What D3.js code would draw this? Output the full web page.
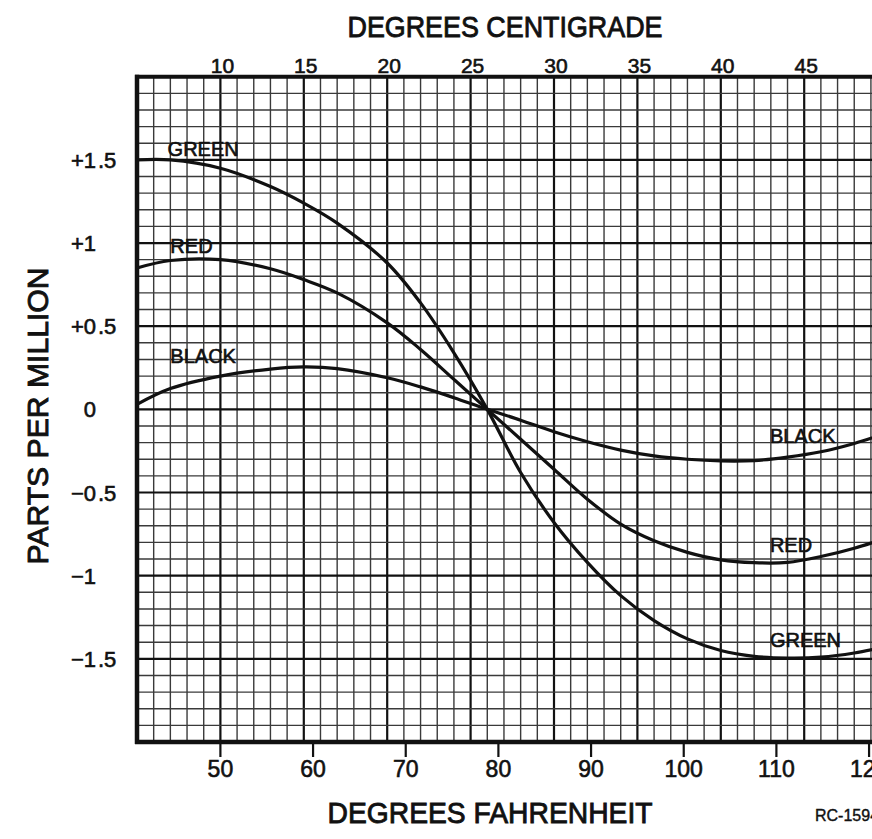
<!DOCTYPE html>
<html>
<head>
<meta charset="utf-8">
<script src="https://cdn.jsdelivr.net/npm/d3@7/dist/d3.min.js"></script>
<style>
  html, body { margin: 0; padding: 0; background: #fff; overflow: hidden; }
  svg { display: block; font-family: "Liberation Sans", Arial, sans-serif; }
  text { fill: #111; stroke: #111; stroke-width: 0.6px; }
</style>
</head>
<body>
<svg id="chart"></svg>
<script>
const width = 872;
const height = 839;

// temperature samples in deg F, shared by the three curves
const tempF = [41, 44.6, 50, 55.4, 59, 62.6, 68, 71.6, 75.2, 78.8, 82.4, 86, 89.6, 93.2, 96.8, 100.4, 104, 107.6, 111.2, 114.8, 118.4, 121.5];
// parts per million
const greenPpm = [1.50, 1.50, 1.45, 1.34, 1.24, 1.12, 0.88, 0.64, 0.34, 0.0, -0.38, -0.68, -0.92, -1.12, -1.27, -1.38, -1.45, -1.485, -1.495, -1.49, -1.465, -1.43];
const redPpm = [0.85, 0.895, 0.90, 0.845, 0.78, 0.70, 0.52, 0.36, 0.18, 0.0, -0.18, -0.36, -0.54, -0.69, -0.79, -0.86, -0.905, -0.922, -0.92, -0.885, -0.835, -0.78];
const blackPpm = [0.03, 0.125, 0.20, 0.242, 0.255, 0.245, 0.19, 0.135, 0.07, 0.0, -0.065, -0.135, -0.195, -0.245, -0.28, -0.30, -0.31, -0.308, -0.287, -0.255, -0.205, -0.15];

const seriesNames = ['GREEN', 'RED', 'BLACK'];
const seriesValues = [greenPpm, redPpm, blackPpm];

// where each name is lettered on the chart (deg F, ppm of text baseline)
const labelLeftF = [44.3, 44.6, 44.6];
const labelLeftPpm = [1.526, 0.938, 0.278];
const labelRightF = [109.3, 109.3, 109.3];
const labelRightPpm = [-1.427, -0.857, -0.202];

const yTicks = [1.5, 1, 0.5, 0, -0.5, -1, -1.5];
const yTickLabels = ['+1.5', '+1', '+0.5', '0', '\u22120.5', '\u22121', '\u22121.5'];
const cTicks = [10, 15, 20, 25, 30, 35, 40, 45];
const fTicks = [50, 60, 70, 80, 90, 100, 110, 120];

const pLeft = 137, pRight = 887.6, pTop = 76.7, pBottom = 742;

const svg = d3.select('#chart')
    .attr('width', width)
    .attr('height', height);

const xC = d3.scaleLinear().domain([5, 50]).range([pLeft, pRight]);
const xF = d3.scaleLinear().domain([41, 122]).range([pLeft, pRight]);
const y = d3.scaleLinear().domain([-2, 2]).range([pBottom, pTop]);

// graph paper grid
const grid = svg.append('g');
grid.selectAll('line.v')
    .data(d3.range(5, 51))
    .enter().append('line')
    .attr('class', 'v')
    .attr('x1', d => xC(d)).attr('x2', d => xC(d))
    .attr('y1', pTop).attr('y2', pBottom)
    .attr('stroke', d => d % 5 === 0 ? '#111' : '#3a3a3a')
    .attr('stroke-width', d => d % 5 === 0 ? 2.2 : 1.4);

grid.selectAll('line.h')
    .data(d3.range(-20, 21))
    .enter().append('line')
    .attr('class', 'h')
    .attr('x1', pLeft).attr('x2', pRight)
    .attr('y1', d => y(d / 10)).attr('y2', d => y(d / 10))
    .attr('stroke', d => d % 5 === 0 ? '#111' : '#3a3a3a')
    .attr('stroke-width', d => d % 5 === 0 ? 2.2 : 1.4);

// frame
svg.append('line').attr('x1', pLeft).attr('x2', pLeft).attr('y1', pTop - 2).attr('y2', pBottom + 2)
    .attr('stroke', '#111').attr('stroke-width', 4.5);
svg.append('line').attr('x1', pLeft - 2).attr('x2', pRight).attr('y1', pTop).attr('y2', pTop)
    .attr('stroke', '#111').attr('stroke-width', 4);
svg.append('line').attr('x1', pLeft - 2).attr('x2', pRight).attr('y1', pBottom).attr('y2', pBottom)
    .attr('stroke', '#111').attr('stroke-width', 4.5);

// curves
const line = d3.line()
    .x(d => xF(d[0]))
    .y(d => y(d[1]))
    .curve(d3.curveCatmullRom.alpha(0.5));

svg.selectAll('path.curve')
    .data(seriesValues)
    .enter().append('path')
    .attr('class', 'curve')
    .attr('d', vals => line(tempF.map((t, i) => [t, vals[i]])))
    .attr('fill', 'none')
    .attr('stroke', '#111')
    .attr('stroke-width', 3.2);

// curve names
const labelStyle = sel => sel
    .attr('font-size', 20)
    .text((d, i) => seriesNames[i]);

svg.selectAll('text.lblL')
    .data(seriesNames)
    .enter().append('text')
    .attr('class', 'lblL')
    .attr('x', (d, i) => xF(labelLeftF[i]))
    .attr('y', (d, i) => y(labelLeftPpm[i]))
    .call(labelStyle);

svg.selectAll('text.lblR')
    .data(seriesNames)
    .enter().append('text')
    .attr('class', 'lblR')
    .attr('x', (d, i) => xF(labelRightF[i]))
    .attr('y', (d, i) => y(labelRightPpm[i]))
    .call(labelStyle);

// left ppm labels, lined up on the decimal point
const yLab = svg.append('g');
yTicks.forEach((v, i) => {
    const parts = yTickLabels[i].split('.');
    yLab.append('text')
        .attr('x', 96).attr('y', y(v) + 8)
        .attr('text-anchor', 'end')
        .attr('font-size', 22)
        .text(parts[0]);
    if (parts[1]) {
        yLab.append('text')
            .attr('x', 98).attr('y', y(v) + 8)
            .attr('font-size', 22)
            .text('.' + parts[1]);
    }
});

// top celsius scale
svg.selectAll('text.cTick')
    .data(cTicks)
    .enter().append('text')
    .attr('class', 'cTick')
    .attr('x', d => xC(d) + 2)
    .attr('y', 73)
    .attr('text-anchor', 'middle')
    .attr('font-size', 21)
    .text(d => d);

// bottom fahrenheit scale
svg.selectAll('line.fTick')
    .data(fTicks)
    .enter().append('line')
    .attr('class', 'fTick')
    .attr('x1', d => xF(d)).attr('x2', d => xF(d))
    .attr('y1', pBottom).attr('y2', pBottom + 15)
    .attr('stroke', '#111').attr('stroke-width', 2.2);

svg.selectAll('text.fTick')
    .data(fTicks)
    .enter().append('text')
    .attr('class', 'fTick')
    .attr('x', d => xF(d))
    .attr('y', 777)
    .attr('text-anchor', 'middle')
    .attr('font-size', 23)
    .text(d => d);

// titles
svg.append('text')
    .attr('x', 505).attr('y', 37)
    .attr('text-anchor', 'middle')
    .attr('font-size', 30)
    .style('stroke-width', '0.9px')
    .attr('textLength', 315).attr('lengthAdjust', 'spacingAndGlyphs')
    .text('DEGREES  CENTIGRADE');

svg.append('text')
    .attr('x', 490).attr('y', 823)
    .attr('text-anchor', 'middle')
    .attr('font-size', 30)
    .style('stroke-width', '0.9px')
    .attr('textLength', 325).attr('lengthAdjust', 'spacingAndGlyphs')
    .text('DEGREES  FAHRENHEIT');

svg.append('text')
    .attr('transform', 'translate(48,416) rotate(-90)')
    .attr('text-anchor', 'middle')
    .attr('font-size', 30)
    .style('stroke-width', '0.9px')
    .attr('textLength', 297).attr('lengthAdjust', 'spacingAndGlyphs')
    .text('PARTS  PER  MILLION');

svg.append('text')
    .attr('x', 815).attr('y', 821)
    .attr('font-size', 16)
    .style('stroke-width', '0.4px')
    .text('RC-15940');
</script>
</body>
</html>
